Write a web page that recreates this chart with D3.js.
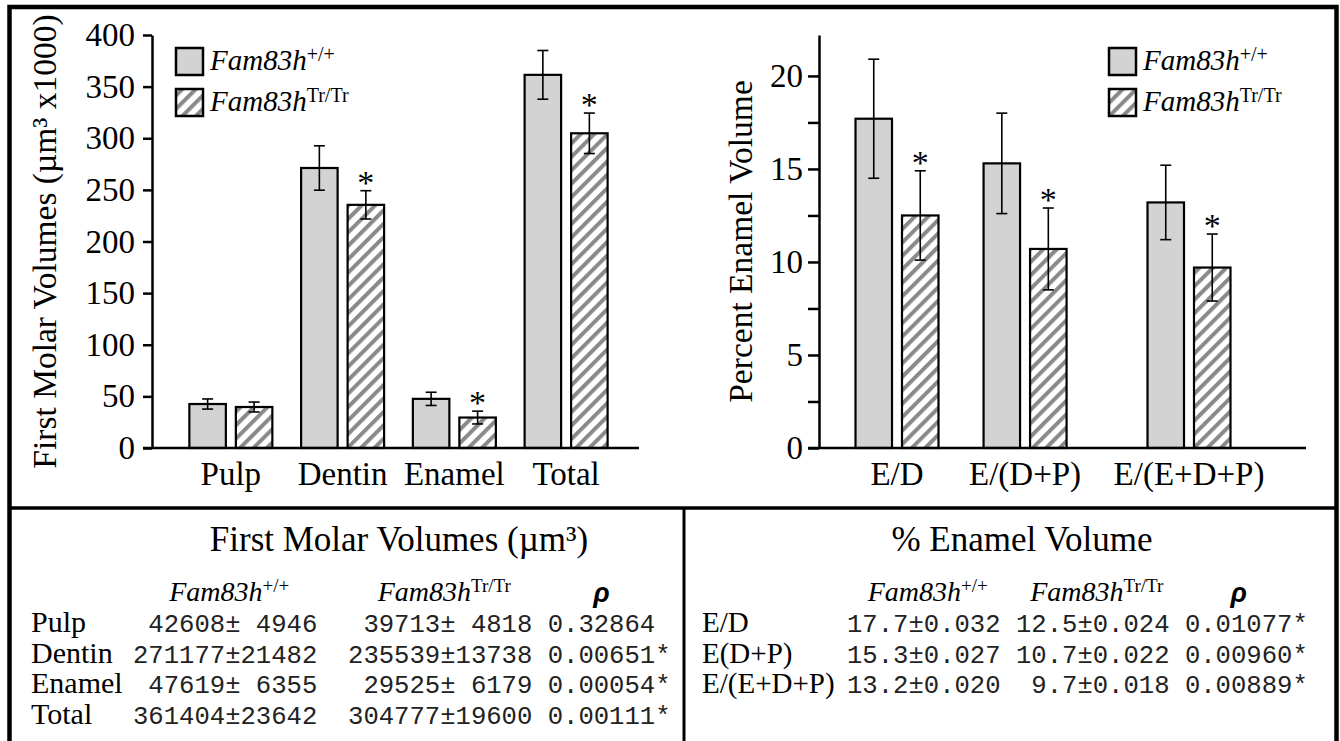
<!DOCTYPE html>
<html>
<head>
<meta charset="utf-8">
<script src="https://cdn.jsdelivr.net/npm/d3@7"></script>
<style>
  body { margin: 0; background: #fff; }
  svg { display: block; }
</style>
</head>
<body>
<svg id="fig" width="1340" height="741"></svg>
<script>
// ---- data ----
// first molar volumes, um^3 x1000
const volCats = ["Pulp", "Dentin", "Enamel", "Total"];
const volWt = [42.6, 271.2, 47.6, 361.4];
const volWtErr = [4.9, 21.5, 6.4, 23.6];
const volTr = [39.7, 235.5, 29.5, 304.8];
const volTrErr = [4.8, 13.7, 6.2, 19.6];
const volTicks = [0, 50, 100, 150, 200, 250, 300, 350, 400];

// percent enamel volume
const pctCats = ["E/D", "E/(D+P)", "E/(E+D+P)"];
const pctWt = [17.7, 15.3, 13.2];
const pctWtErr = [3.2, 2.7, 2.0];
const pctTr = [12.5, 10.7, 9.7];
const pctTrErr = [2.4, 2.2, 1.8];
const pctTicks = [0, 2.5, 5, 7.5, 10, 12.5, 15, 17.5, 20];

// tables
const tVolRows = ["Pulp", "Dentin", "Enamel", "Total"];
const tVolWtMean = [42608, 271177, 47619, 361404];
const tVolWtSd = [4946, 21482, 6355, 23642];
const tVolTrMean = [39713, 235539, 29525, 304777];
const tVolTrSd = [4818, 13738, 6179, 19600];
const tVolP = [0.32864, 0.00651, 0.00054, 0.00111];

const tPctRows = ["E/D", "E(D+P)", "E/(E+D+P)"];
const tPctWtMean = [17.7, 15.3, 13.2];
const tPctWtSd = [0.032, 0.027, 0.020];
const tPctTrMean = [12.5, 10.7, 9.7];
const tPctTrSd = [0.024, 0.022, 0.018];
const tPctP = [0.01077, 0.00960, 0.00889];

const genes = [
  { key: "wt", sup: "+/+" },
  { key: "tr", sup: "Tr/Tr" }
];

// ---- layout ----
const serif = "'Liberation Serif', 'Times New Roman', serif";
const mono = "'Liberation Mono', 'Courier New', monospace";
const sans = "'Liberation Sans', Arial, sans-serif";
const grayFill = "#d3d3d3";
const pctSlot = [0, 1, 2.28];   // uneven group spacing in the right panel

const svg = d3.select("#fig");

const pat = svg.append("defs").append("pattern")
    .attr("id", "hatch")
    .attr("patternUnits", "userSpaceOnUse")
    .attr("width", 9.5)
    .attr("height", 9.5)
    .attr("patternTransform", "rotate(45)");
pat.append("rect").attr("width", 9.5).attr("height", 9.5).attr("fill", "#fff");
pat.append("rect").attr("width", 4).attr("height", 9.5).attr("fill", "#8a8a8a");

// frame
svg.append("rect")
    .attr("x", 9.5).attr("y", 7)
    .attr("width", 1327).attr("height", 800)
    .attr("fill", "none").attr("stroke", "#000").attr("stroke-width", 4.5);
svg.append("line")
    .attr("x1", 9).attr("x2", 1338).attr("y1", 508).attr("y2", 508)
    .attr("stroke", "#000").attr("stroke-width", 3.5);
svg.append("line")
    .attr("x1", 684).attr("x2", 684).attr("y1", 508).attr("y2", 760)
    .attr("stroke", "#000").attr("stroke-width", 3);

const sub = d3.scaleBand().domain(genes.map(d => d.key)).range([0, 83]).paddingInner(0.215);

function drawPanel(opt) {
    const g = svg.append("g");
    const y = opt.y;

    // bars
    opt.cats.forEach((c, i) => {
        const x0 = opt.groupStart(i);
        const vals = { wt: [opt.wt[i], opt.wtErr[i]], tr: [opt.tr[i], opt.trErr[i]] };
        genes.forEach(gn => {
            const [v, e] = vals[gn.key];
            const bx = x0 + sub(gn.key);
            g.append("rect")
                .attr("x", bx).attr("y", y(v))
                .attr("width", sub.bandwidth()).attr("height", y(0) - y(v))
                .attr("fill", gn.key === "wt" ? grayFill : "url(#hatch)")
                .attr("stroke", "#000").attr("stroke-width", 2.2);
            const cx = bx + sub.bandwidth() / 2;
            g.append("line")
                .attr("x1", cx).attr("x2", cx).attr("y1", y(v + e)).attr("y2", y(v - e))
                .attr("stroke", "#000").attr("stroke-width", 1.6);
            [v + e, v - e].forEach(t => {
                g.append("line")
                    .attr("x1", cx - 5.5).attr("x2", cx + 5.5).attr("y1", y(t)).attr("y2", y(t))
                    .attr("stroke", "#000").attr("stroke-width", 1.6);
            });
            if (gn.key === "tr" && opt.pvals[i] < 0.05) {
                g.append("text")
                    .attr("x", cx).attr("y", y(v + e) + 3)
                    .attr("text-anchor", "middle")
                    .attr("font-family", serif).attr("font-size", 34)
                    .text("*");
            }
        });
        g.append("text")
            .attr("x", x0 + 41.5).attr("y", 485)
            .attr("text-anchor", "middle")
            .attr("font-family", serif).attr("font-size", 33)
            .text(c);
    });

    // axes
    const ax = d3.axisLeft(y)
        .tickValues(opt.ticks)
        .tickFormat(opt.fmt)
        .tickSize(opt.tickLen)
        .tickSizeOuter(0)
        .tickPadding(opt.pad);
    const a = g.append("g")
        .attr("transform", `translate(${opt.axisX},0)`)
        .call(ax)
        .attr("font-family", serif)
        .attr("font-size", 33);
    a.select(".domain").attr("stroke", "#000").attr("stroke-width", 2.5);
    a.selectAll(".tick line").attr("stroke", "#000").attr("stroke-width", 2.5);
    a.selectAll(".tick text").attr("fill", "#000");

    g.append("line")
        .attr("x1", opt.axisX - opt.tickLen).attr("x2", opt.right)
        .attr("y1", y(0)).attr("y2", y(0))
        .attr("stroke", "#000").attr("stroke-width", 2.5);

    const r = y.range();
    g.append("text")
        .attr("transform", `translate(${opt.titleX},${(r[0] + r[1]) / 2}) rotate(-90)`)
        .attr("text-anchor", "middle")
        .attr("font-family", serif).attr("font-size", 33.5)
        .text(opt.title);

    // legend
    genes.forEach((gn, k) => {
        const ly = 48 + k * 41;
        g.append("rect")
            .attr("x", opt.legendX).attr("y", ly)
            .attr("width", 27).attr("height", 27)
            .attr("fill", gn.key === "wt" ? grayFill : "url(#hatch)")
            .attr("stroke", "#000").attr("stroke-width", 2.5);
        geneLabel(g, opt.legendX + 34, ly + 22, 29, 20, gn.sup, "start");
    });
}

function geneLabel(g, x, y, size, supSize, sup, anchor) {
    const t = g.append("text")
        .attr("x", x).attr("y", y)
        .attr("text-anchor", anchor)
        .attr("font-family", serif).attr("font-size", size);
    t.append("tspan").attr("font-style", "italic").text("Fam83h");
    t.append("tspan").attr("font-size", supSize).attr("dy", -9).text(sup);
    return t;
}

// left panel
const yL = d3.scaleLinear().domain([0, 400]).range([448, 35]);
const xL = d3.scaleBand().domain(volCats).range([175, 622]).paddingInner(0.257).paddingOuter(0.1285);
drawPanel({
    cats: volCats, wt: volWt, wtErr: volWtErr, tr: volTr, trErr: volTrErr, pvals: tVolP,
    y: yL, groupStart: i => xL(volCats[i]),
    ticks: volTicks, fmt: d3.format("d"), tickLen: 9, pad: 8,
    axisX: 152, right: 639, titleX: 56,
    title: "First Molar Volumes (\u00b5m\u00b3 x1000)",
    legendX: 176
});

// right panel
const yR = d3.scaleLinear().domain([0, 22.2]).range([448, 35]);
const xR = d3.scaleLinear().domain([0, 2.28]).range([897, 1189]);
drawPanel({
    cats: pctCats, wt: pctWt, wtErr: pctWtErr, tr: pctTr, trErr: pctTrErr, pvals: tPctP,
    y: yR, groupStart: i => xR(pctSlot[i]) - 41.5,
    ticks: pctTicks, fmt: d => (d % 5 === 0 ? d3.format("d")(d) : ""), tickLen: 11, pad: 5,
    axisX: 819, right: 1306, titleX: 752,
    title: "Percent Enamel Volume",
    legendX: 1109
});

// ---- tables ----
const monoSize = 25.6, chW = monoSize * 0.6;
const rowY = i => 632 + i * 30.5;

function drawTable(o) {
    const g = svg.append("g");
    g.append("text")
        .attr("x", o.titleX).attr("y", 551)
        .attr("text-anchor", "middle")
        .attr("font-family", serif).attr("font-size", 35)
        .text(o.title);
    o.heads.forEach(h => {
        const cx = o.x0 + (h.c0 + h.len / 2) * chW;
        if (h.sup) geneLabel(g, cx + 4, 601, 28, 19, h.sup, "middle");
        else g.append("text")
            .attr("x", cx).attr("y", 602)
            .attr("text-anchor", "middle")
            .attr("font-family", sans).attr("font-size", 27)
            .attr("font-weight", "bold").attr("font-style", "italic")
            .text("\u03c1");
    });
    o.rows.forEach((r, i) => {
        g.append("text")
            .attr("x", o.labelX).attr("y", rowY(i))
            .attr("font-family", serif).attr("font-size", o.labelSize)
            .text(r);
        g.append("text")
            .attr("x", o.x0).attr("y", rowY(i))
            .attr("font-family", mono).attr("font-size", monoSize)
            .attr("fill", "#222")
            .style("white-space", "pre")
            .text(o.line(i));
    });
}

const pad = (s, n) => String(s).padStart(n, " ");
const pStr = p => p.toFixed(5) + (p < 0.05 ? "*" : "");

drawTable({
    title: "First Molar Volumes (\u00b5m\u00b3)", titleX: 399,
    labelX: 31, labelSize: 30, x0: 133, rows: tVolRows,
    heads: [{ c0: 0, len: 12, sup: "+/+" }, { c0: 14, len: 12, sup: "Tr/Tr" }, { c0: 27, len: 7 }],
    line: i => pad(tVolWtMean[i], 6) + "\u00b1" + pad(tVolWtSd[i], 5) + "  " +
        pad(tVolTrMean[i], 6) + "\u00b1" + pad(tVolTrSd[i], 5) + " " + pStr(tVolP[i])
});

drawTable({
    title: "% Enamel Volume", titleX: 1022,
    labelX: 702, labelSize: 29, x0: 847, rows: tPctRows,
    heads: [{ c0: 0, len: 10, sup: "+/+" }, { c0: 11, len: 10, sup: "Tr/Tr" }, { c0: 22, len: 7 }],
    line: i => pad(tPctWtMean[i].toFixed(1), 4) + "\u00b1" + tPctWtSd[i].toFixed(3) + " " +
        pad(tPctTrMean[i].toFixed(1), 4) + "\u00b1" + tPctTrSd[i].toFixed(3) + " " + pStr(tPctP[i])
});
</script>
</body>
</html>
